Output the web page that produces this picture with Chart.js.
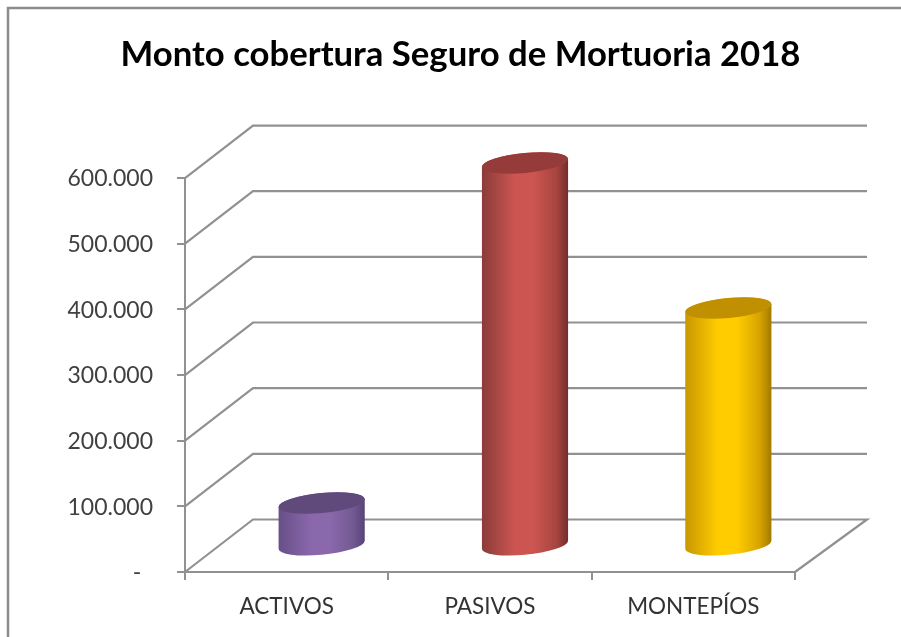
<!DOCTYPE html>
<html>
<head>
<meta charset="utf-8">
<style>html,body{margin:0;padding:0;background:#fff}#w{width:901px;height:637px}</style>
<script src="https://cdn.jsdelivr.net/npm/chart.js@4"></script>
</head>
<body>
<div id="w"><canvas id="c"></canvas></div>
<script>
const titleText = 'Monto cobertura Seguro de Mortuoria 2018';
const categories = ['ACTIVOS', 'PASIVOS', 'MONTEPÍOS'];
const seriesValues = [65000, 583000, 362000];
const sideColors = [
  ['#664f86', '#8a68ab', '#735a92', '#58427a'],
  ['#8a3b39', '#cc5551', '#a8453f', '#732d2b'],
  ['#c99700', '#ffcc00', '#d7a400', '#9f7a00']
];
const topColors = ['#5f4a7b', '#953b3a', '#c09000'];
const barColors = ['#8064a2', '#c0504d', '#ffc000'];
const yTicks = [0, 100000, 200000, 300000, 400000, 500000, 600000];

const depthX = 68, depthY = -52.5, backStretch = 4, barShift = 35;
const gridColor = '#919191';

const scene = {
  id: 'scene',
  afterLayout(chart) {
    chart.titleBlock.left = 20;
    chart.titleBlock.right = 901;
  },
  beforeDraw(chart) {
    const c = chart.ctx;
    c.save();
    c.strokeStyle = '#8c8c8c';
    c.lineWidth = 2.5;
    c.beginPath();
    c.moveTo(8, chart.height);
    c.lineTo(8, 8);
    c.lineTo(chart.width, 8);
    c.stroke();
    c.restore();
  },
  beforeDatasetsDraw(chart) {
    const c = chart.ctx, y = chart.scales.y, a = chart.chartArea;
    c.save();
    c.strokeStyle = gridColor;
    c.lineWidth = 2.2;
    yTicks.forEach(v => {
      const py = y.getPixelForValue(v);
      c.beginPath();
      c.moveTo(a.left, py);
      c.lineTo(a.left + depthX, py + depthY);
      c.lineTo(a.right + depthX + backStretch, py + depthY);
      if (v === 0) c.lineTo(a.right, py);
      c.stroke();
    });
    c.restore();
  },
  beforeDatasetDraw(chart, args) {
    const c = chart.ctx;
    const bars = chart.getDatasetMeta(args.index).data;
    const phi = -5.5 * Math.PI / 180;
    bars.forEach((b, i) => {
      const rx = b.width / 2 + 0.3, ry = 10;
      const cx = b.x + barShift, topY = b.y + depthY / 2, botY = b.base + depthY / 2;
      const t0 = Math.atan2(-ry * Math.sin(phi), rx * Math.cos(phi));
      const g = c.createLinearGradient(cx - rx, 0, cx + rx, 0);
      const s = sideColors[i];
      g.addColorStop(0, s[0]);
      g.addColorStop(0.38, s[1]);
      g.addColorStop(0.6, s[1]);
      g.addColorStop(0.86, s[2]);
      g.addColorStop(1, s[3]);
      c.save();
      c.fillStyle = g;
      c.beginPath();
      c.ellipse(cx, botY, rx, ry, phi, t0, t0 + Math.PI);
      c.ellipse(cx, topY, rx, ry, phi, t0 + Math.PI, t0 + 2 * Math.PI);
      c.closePath();
      c.fill();
      c.fillStyle = topColors[i];
      c.beginPath();
      c.ellipse(cx, topY, rx, ry, phi, 0, 2 * Math.PI);
      c.fill();
      c.restore();
    });
    return false;
  }
};

new Chart(document.getElementById('c'), {
  type: 'bar',
  data: {
    labels: categories,
    datasets: [{
      label: 'Monto cobertura',
      data: seriesValues,
      backgroundColor: barColors,
      barPercentage: 0.4226,
      categoryPercentage: 1
    }]
  },
  options: {
    responsive: true,
    maintainAspectRatio: false,
    animation: false,
    layout: { padding: { left: 20, right: 106, top: 0, bottom: 0 } },
    plugins: {
      legend: { display: false },
      tooltip: { enabled: false },
      title: {
        display: true,
        text: titleText,
        color: '#000',
        font: { family: 'Lato', size: 34.7, weight: 'bold', lineHeight: 1.2 },
        padding: { top: 34, bottom: 102.4 }
      }
    },
    scales: {
      x: {
        afterFit(s) { s.height = 65; },
        border: { color: gridColor, width: 2 },
        grid: { drawOnChartArea: false, drawTicks: true, tickLength: 8, color: gridColor, lineWidth: 2 },
        ticks: { color: '#333', padding: 13, font: { family: 'Lato', size: 22.5 }, maxRotation: 0 }
      },
      y: {
        min: 0, max: 600000,
        afterFit(s) { s.width = 165; },
        afterBuildTicks(s) { s.ticks = yTicks.map(value => ({ value })); },
        border: { color: gridColor, width: 2 },
        grid: { drawOnChartArea: false, drawTicks: true, tickLength: 8, color: gridColor, lineWidth: 2 },
        ticks: {
          color: '#404040', padding: 24, labelOffset: 1, font: { family: 'Lato', size: 23 },
          callback(v) { return v === 0 ? '-  ' : String(v / 1000) + '.000'; }
        }
      }
    }
  },
  plugins: [scene]
});
</script>
</body>
</html>
